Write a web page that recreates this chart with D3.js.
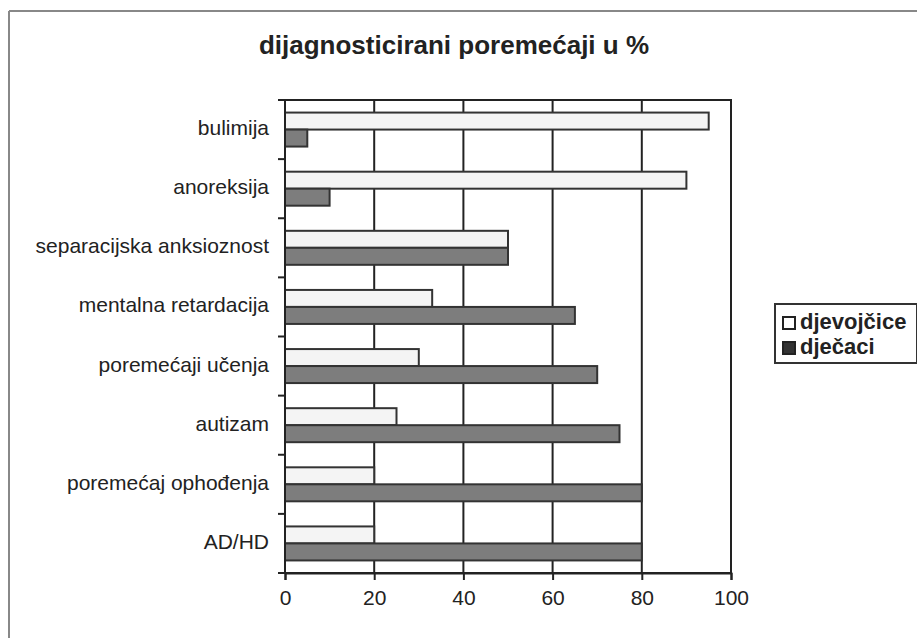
<!DOCTYPE html>
<html>
<head>
<meta charset="utf-8">
<script src="https://cdn.jsdelivr.net/npm/d3@7"></script>
<style>
  body { margin: 0; background: #fff; }
  text { font-family: "Liberation Sans", Arial, sans-serif; fill: #222; }
</style>
</head>
<body>
<div id="canvas"></div>
<script>
"use strict";

// Data
let categories = ["bulimija", "anoreksija", "separacijska anksioznost", "mentalna retardacija",
    "poremećaji učenja", "autizam", "poremećaj ophođenja", "AD/HD"];
let girls = [95, 90, 50, 33, 30, 25, 20, 20];   // djevojčice
let boys = [5, 10, 50, 65, 70, 75, 80, 80];     // dječaci
let xTicks = [0, 20, 40, 60, 80, 100];
let seriesNames = ["djevojčice", "dječaci"];

let svgWidth = 917;
let svgHeight = 638;
let plot = { left: 285, right: 731, top: 100, bottom: 573 };

let svg = d3.select("#canvas")
    .append("svg")
    .attr("width", svgWidth)
    .attr("height", svgHeight);

// outer frame (only top and left edges visible)
svg.append("line")
    .attr("x1", 9).attr("y1", 11).attr("x2", svgWidth).attr("y2", 11)
    .attr("stroke", "#888").attr("stroke-width", 2);
svg.append("line")
    .attr("x1", 9).attr("y1", 11).attr("x2", 9).attr("y2", svgHeight)
    .attr("stroke", "#888").attr("stroke-width", 2);

// Title
svg.append("text")
    .attr("x", 454)
    .attr("y", 54)
    .attr("text-anchor", "middle")
    .attr("font-weight", "bold")
    .style("font-size", "26px")
    .text("dijagnosticirani poremećaji u %");

// Scales
let xScale = d3.scaleLinear()
    .domain([0, 100])
    .range([plot.left, plot.right]);

let yScale = d3.scaleBand()
    .domain(categories)
    .range([plot.top, plot.bottom]);

let barH = 17;
let offset = (yScale.bandwidth() - 2 * barH) / 2;

// vertical gridlines
svg.selectAll("line.grid")
    .data(xTicks.slice(1))
    .join("line")
    .attr("class", "grid")
    .attr("x1", d => xScale(d))
    .attr("x2", d => xScale(d))
    .attr("y1", plot.top)
    .attr("y2", plot.bottom)
    .attr("stroke", "#222")
    .attr("stroke-width", 2);

// bars: girls
svg.selectAll("rect.girls")
    .data(categories)
    .join("rect")
    .attr("class", "girls")
    .attr("x", xScale(0))
    .attr("y", d => yScale(d) + offset)
    .attr("width", (d, i) => xScale(girls[i]) - xScale(0))
    .attr("height", barH)
    .attr("fill", "#f4f4f4")
    .attr("stroke", "#333")
    .attr("stroke-width", 2);

// bars: boys
svg.selectAll("rect.boys")
    .data(categories)
    .join("rect")
    .attr("class", "boys")
    .attr("x", xScale(0))
    .attr("y", d => yScale(d) + offset + barH)
    .attr("width", (d, i) => xScale(boys[i]) - xScale(0))
    .attr("height", barH)
    .attr("fill", "#7d7d7d")
    .attr("stroke", "#333")
    .attr("stroke-width", 2);

// plot border
svg.append("rect")
    .attr("x", plot.left)
    .attr("y", plot.top)
    .attr("width", plot.right - plot.left)
    .attr("height", plot.bottom - plot.top)
    .attr("fill", "none")
    .attr("stroke", "#222")
    .attr("stroke-width", 2);

// x axis
let xAxis = svg.append("g")
    .attr("transform", `translate(0,${plot.bottom})`)
    .call(d3.axisBottom(xScale).tickValues(xTicks).tickSize(7).tickPadding(10));
xAxis.select(".domain").attr("stroke", "#222").attr("stroke-width", 2);
xAxis.selectAll(".tick line").attr("stroke", "#222").attr("stroke-width", 2);
xAxis.selectAll(".tick text")
    .style("font-size", "21px")
    .attr("font-family", "Liberation Sans, Arial, sans-serif")
    .attr("fill", "#222");

// y axis ticks on band boundaries
let boundaries = categories.map(d => yScale(d)).concat([plot.bottom]);
svg.selectAll("line.ytick")
    .data(boundaries)
    .join("line")
    .attr("class", "ytick")
    .attr("x1", plot.left - 7)
    .attr("x2", plot.left)
    .attr("y1", d => d)
    .attr("y2", d => d)
    .attr("stroke", "#222")
    .attr("stroke-width", 2);

// category labels
svg.selectAll("text.cat")
    .data(categories)
    .join("text")
    .attr("class", "cat")
    .attr("x", plot.left - 16)
    .attr("y", d => yScale(d) + yScale.bandwidth() / 2)
    .attr("text-anchor", "end")
    .attr("dominant-baseline", "middle")
    .style("font-size", "21px")
    .text(d => d);

// Legend
let legX = 775, legY = 304;
svg.append("rect")
    .attr("x", legX)
    .attr("y", legY)
    .attr("width", 142)
    .attr("height", 59)
    .attr("fill", "#fff")
    .attr("stroke", "#333")
    .attr("stroke-width", 2);

seriesNames.forEach((name, i) => {
    let y = legY + 19 + i * 25;
    svg.append("rect")
        .attr("x", legX + 8)
        .attr("y", y - 6)
        .attr("width", 12)
        .attr("height", 12)
        .attr("fill", i === 0 ? "#fff" : "#333")
        .attr("stroke", "#222")
        .attr("stroke-width", 2);
    svg.append("text")
        .attr("x", legX + 25)
        .attr("y", y)
        .attr("dominant-baseline", "middle")
        .attr("font-weight", "bold")
        .style("font-size", "22px")
        .text(name);
});
</script>
</body>
</html>
